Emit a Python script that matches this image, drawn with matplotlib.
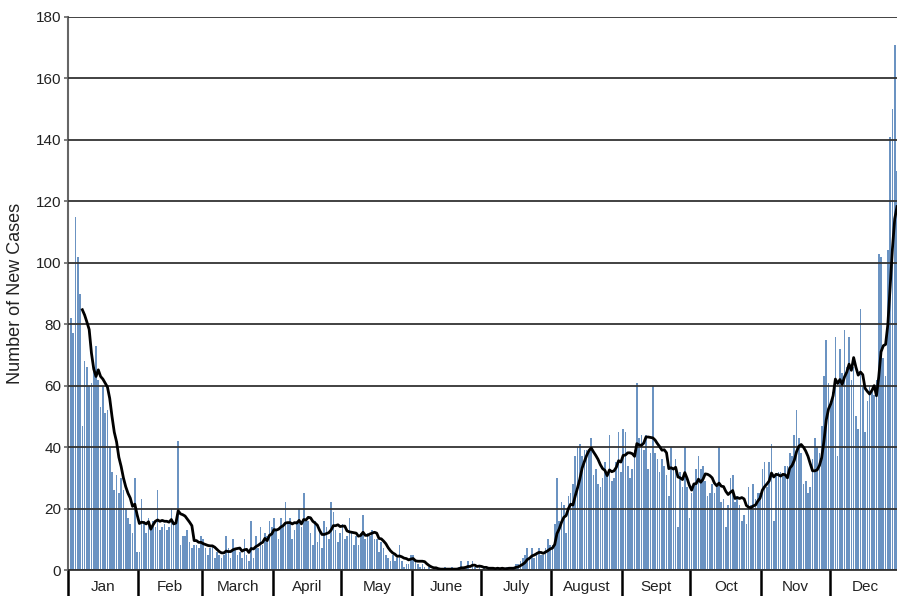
import matplotlib
matplotlib.use("Agg")
import matplotlib.pyplot as plt
import numpy as np
import pandas as pd

plt.rcParams['font.family'] = ['Liberation Sans', 'DejaVu Sans']

# daily new cases
jan = [80, 82, 77, 115, 102, 90, 47, 68, 66, 60, 61, 66, 73, 62, 53, 60, 51, 52,
       40, 32, 26, 31, 25, 30, 26, 20, 17, 15, 12, 30, 6]
feb = [6, 23, 16, 12, 17, 13, 16, 14, 26, 13, 14, 15, 13, 14, 20, 16, 15, 42,
       8, 11, 11, 13, 9, 7, 8, 8, 7, 11]
mar = [10, 7, 5, 7, 8, 4, 6, 5, 4, 5, 11, 7, 4, 10, 7, 5, 6, 4, 10, 5, 3, 16,
       4, 11, 7, 14, 8, 12, 11, 16, 14]
apr = [17, 13, 10, 17, 14, 22, 15, 17, 10, 13, 16, 20, 14, 25, 16, 16, 12, 8,
       16, 9, 13, 7, 16, 14, 10, 22, 19, 13, 9, 12]
may = [15, 10, 11, 17, 12, 8, 11, 8, 12, 18, 10, 12, 11, 13, 10, 10, 6, 9, 7,
       5, 4, 3, 5, 3, 4, 8, 3, 1, 2, 2, 5]
jun = [5, 3, 2, 1, 2, 1, 0, 1, 0, 0, 1, 0, 0, 0, 1, 0, 0, 1, 0, 0, 1, 3, 0, 1,
       3, 0, 3, 1, 0, 1]
jul = [0, 1, 0, 1, 1, 0, 0, 1, 0, 1, 0, 1, 1, 0, 1, 2, 2, 3, 4, 5, 7, 4, 7, 4,
       6, 7, 5, 5, 7, 10, 8]
aug = [8, 15, 30, 16, 22, 21, 12, 24, 25, 28, 37, 40, 41, 37, 39, 39, 39, 43,
       31, 33, 28, 27, 30, 35, 31, 44, 29, 30, 35, 45, 32]
sep = [46, 45, 34, 30, 33, 39, 61, 43, 44, 39, 44, 33, 38, 60, 38, 36, 32, 36,
       34, 31, 24, 40, 33, 36, 14, 32, 27, 40, 27, 17]
oct_ = [25, 28, 33, 37, 33, 34, 29, 24, 25, 28, 25, 27, 40, 22, 23, 14, 21, 30,
        31, 22, 24, 21, 16, 18, 15, 27, 21, 28, 23, 25, 25]
nov = [33, 35, 27, 35, 41, 16, 31, 32, 32, 31, 34, 34, 38, 37, 44, 52, 43, 38,
       28, 29, 25, 27, 36, 43, 40, 38, 47, 63, 75, 61]
dec = [55, 58, 76, 37, 72, 64, 78, 66, 76, 62, 66, 50, 46, 85, 60, 45, 55, 60,
       58, 57, 62, 103, 102, 69, 63, 104, 141, 150, 171, 130]

months = ["Jan", "Feb", "March", "April", "May", "June", "July", "August",
          "Sept", "Oct", "Nov", "Dec"]
month_days = [31, 28, 31, 30, 31, 30, 31, 31, 30, 31, 30, 31]

cases = pd.Series(jan + feb + mar + apr + may + jun + jul + aug + sep + oct_ + nov + dec)
days = np.arange(len(cases))
avg7 = cases.rolling(7).mean()

fig = plt.figure(figsize=(8.97, 5.96), dpi=100)
ax = fig.add_axes([67.5 / 897, 26 / 596, 1 - 67.5 / 897, (570 - 17) / 596])

ax.bar(days, cases, width=0.72, color="#6b93c2", linewidth=0, zorder=1)
ax.plot(days, avg7, color="black", linewidth=2.0, zorder=4)

ax.set_xlim(-0.5, 363)
ax.set_ylim(0, 180)
ax.set_yticks(range(0, 181, 20))
ax.yaxis.grid(True, color="#333333", linewidth=1.3, zorder=3)
ax.set_axisbelow(False)

edges = np.concatenate([[0], np.cumsum(month_days)]) - 0.5
centers = (edges[:-1] + edges[1:]) / 2
ax.set_xticks(edges[:-1])
ax.set_xticklabels([])
ax.tick_params(axis="x", which="major", length=19, width=1.8, color="black",
               direction="out")
ax.set_xticks(centers, minor=True)
ax.set_xticklabels(months, minor=True)
ax.tick_params(axis="x", which="minor", length=0, pad=7, labelsize=11,
               labelcolor="#222222")

ax.tick_params(axis="y", length=3, width=1.2, color="#666666", pad=1.5,
               labelsize=11, labelcolor="#222222")

for side in ["top", "right"]:
    ax.spines[side].set_visible(False)
ax.spines["left"].set_color("#666666")
ax.spines["left"].set_linewidth(1.5)
ax.spines["bottom"].set_color("#333333")
ax.spines["bottom"].set_linewidth(1.3)

ax.set_ylabel("Number of New Cases", fontsize=13, color="#222222")
ax.yaxis.set_label_coords(-0.052, 0.5)

fig.savefig("out.png", dpi=100)
